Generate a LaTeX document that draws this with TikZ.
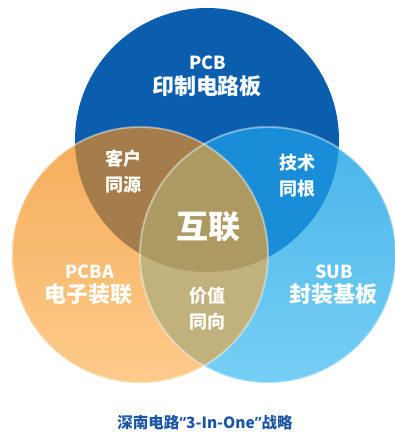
\documentclass[tikz,border=0pt]{standalone}
\usepackage{fontspec}
\newfontfamily\cjk{Noto Sans CJK SC}
\newfontfamily\quotefont{Open Sans}
\definecolor{pcbblue}{HTML}{0B5DAE}
\definecolor{pcbaorange}{HTML}{F5AC5A}
\definecolor{pcbaorangelight}{HTML}{FDCB8B}
\definecolor{subblue}{HTML}{48B4E9}
\definecolor{subbluelight}{HTML}{76CFF5}
\definecolor{topleft}{HTML}{A57D4B}
\definecolor{topright}{HTML}{1A8DD9}
\definecolor{leftright}{HTML}{C1B17D}
\definecolor{allthree}{HTML}{AC9A62}
\definecolor{captionblue}{HTML}{1D56A3}
\begin{document}
\begin{tikzpicture}[x=1pt, y=-1pt,
    circletag/.style={text=white, font=\cjk\bfseries\fontsize{18}{20}\selectfont},
    circlename/.style={text=white, font=\cjk\bfseries\fontsize{22}{24}\selectfont},
    pairlabel/.style={text=white, align=center, font=\cjk\bfseries\fontsize{18}{26}\selectfont},
    rim/.style={draw=white, draw opacity=.4, line width=2pt}]
    % Canvas
    \fill[white] (0,0) rectangle (395,432);
    \useasboundingbox (0,0) rectangle (395,432);

    % Circle centres
    \coordinate (pcbc) at (207,140);
    \coordinate (pcbac) at (140,255);
    \coordinate (subc) at (268,255);

    % Draw the three circles
    \fill[pcbblue] (pcbc) circle[radius=132pt];
    \shade[top color=pcbaorange, bottom color=pcbaorangelight] (pcbac) circle[radius=128pt];
    \shade[top color=subblue, bottom color=subbluelight] (subc) circle[radius=128pt];

    % Overlaps with the top circle
    \begin{scope}
        \clip (pcbc) circle[radius=132pt];
        \fill[topleft] (pcbac) circle[radius=128pt];
        \fill[topright] (subc) circle[radius=128pt];
    \end{scope}

    % Overlap of the lower circles, and the centre
    \begin{scope}
        \clip (pcbac) circle[radius=128pt];
        \fill[leftright] (subc) circle[radius=128pt];
        \clip (subc) circle[radius=128pt];
        \fill[allthree] (pcbc) circle[radius=132pt];
    \end{scope}

    % Light rims
    \path[rim] (pcbac) circle[radius=128pt];
    \path[rim] (subc) circle[radius=128pt];

    % Circle labels
    \node[circletag] (pcbtag) at (208,63) {PCB};
    \node[circlename] (pcbname) at (207,86) {印制电路板};
    \node[circletag] (pcbatag) at (90,272) {PCBA};
    \node[circlename] (pcbaname) at (89,294) {电子装联};
    \node[circletag] (subtag) at (334,272) {SUB};
    \node[circlename] (subname) at (333,294) {封装基板};

    % Overlap labels
    \node[pairlabel] (client) at (123,172) {客户\\同源};
    \node[pairlabel] (tech) at (297,176) {技术\\同根};
    \node[pairlabel] (value) at (207,309) {价值\\同向};
    \node[text=white, font=\cjk\bfseries\fontsize{32}{34}\selectfont] (link) at (208,227) {互联};

    % Caption
    \node[text=captionblue, font=\cjk\bfseries\fontsize{15.5}{17}\selectfont] (caption) at (205,423)
        {深南电路{\quotefont\bfseries “}3-In-One{\quotefont\bfseries ”}战略};
\end{tikzpicture}
\end{document}
